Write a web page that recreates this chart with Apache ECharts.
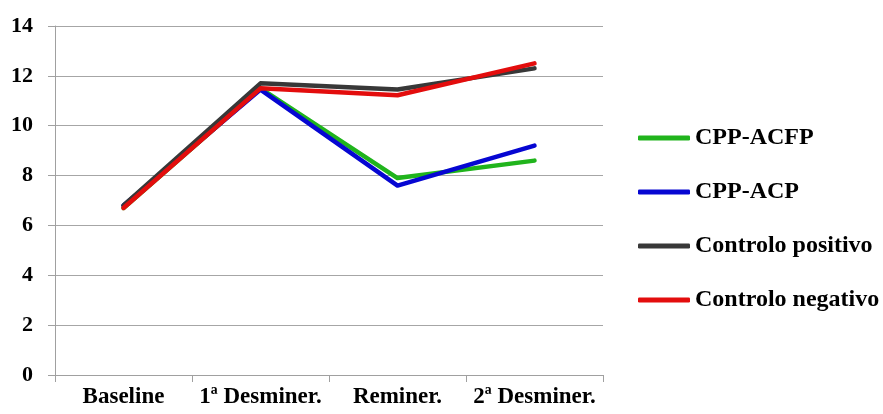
<!DOCTYPE html>
<html>
<head>
<meta charset="utf-8">
<script src="https://cdn.jsdelivr.net/npm/echarts@6/dist/echarts.min.js"></script>
<style>
  html, body { margin: 0; padding: 0; background: #ffffff; }
  #chart { width: 883px; height: 414px; }
</style>
</head>
<body>
<div id="chart"></div>
<script>
// Phases of the study (x axis)
const categories = ['Baseline', '1ª Desminer.', 'Reminer.', '2ª Desminer.'];

// Mean values per group
const cppAcfp = [6.7, 11.5, 7.9, 8.6];
const cppAcp = [6.8, 11.45, 7.6, 9.2];
const controloPositivo = [6.8, 11.7, 11.45, 12.3];
const controloNegativo = [6.7, 11.5, 11.22, 12.5];

// Y axis range
const yMin = 0;
const yMax = 14;
const yStep = 2;

const fontFamily = '"Liberation Serif", "Times New Roman", serif';

const seriesDefs = [
  { name: 'CPP-ACFP', data: cppAcfp, color: '#20b41c' },
  { name: 'CPP-ACP', data: cppAcp, color: '#0606d2' },
  { name: 'Controlo positivo', data: controloPositivo, color: '#383838' },
  { name: 'Controlo negativo', data: controloNegativo, color: '#e30d0d' }
];

const chart = echarts.init(document.getElementById('chart'), null, { renderer: 'canvas' });

chart.setOption({
  animation: false,
  backgroundColor: '#ffffff',
  grid: { left: 55, right: 280, top: 26, bottom: 39, containLabel: false },
  legend: {
    orient: 'vertical',
    left: 638,
    top: 126,
    padding: 0,
    itemWidth: 52,
    itemHeight: 5,
    itemGap: 30,
    icon: 'roundRect',
    textStyle: {
      fontFamily: fontFamily,
      fontWeight: 'bold',
      fontSize: 24,
      color: '#000000',
      lineHeight: 24
    },
    data: seriesDefs.map(s => s.name)
  },
  xAxis: {
    type: 'category',
    data: categories,
    boundaryGap: true,
    axisLine: { lineStyle: { color: '#a0a0a0', width: 1 } },
    axisTick: { show: true, length: 7, interval: 0, lineStyle: { color: '#a0a0a0' } },
    axisLabel: {
      interval: 0,
      margin: 11,
      fontFamily: fontFamily,
      fontWeight: 'bold',
      fontSize: 23,
      color: '#000000'
    },
    splitLine: { show: false }
  },
  yAxis: {
    type: 'value',
    min: yMin,
    max: yMax,
    interval: yStep,
    axisLine: { show: true, lineStyle: { color: '#a0a0a0', width: 1 } },
    axisTick: { show: true, length: 7, lineStyle: { color: '#a0a0a0' } },
    axisLabel: {
      margin: 22,
      fontFamily: fontFamily,
      fontWeight: 'bold',
      fontSize: 22,
      color: '#000000'
    },
    splitLine: { show: true, lineStyle: { color: '#a6a6a6', width: 1 } }
  },
  series: seriesDefs.map(s => ({
    name: s.name,
    type: 'line',
    data: s.data,
    showSymbol: false,
    symbol: 'none',
    color: s.color,
    lineStyle: { color: s.color, width: 4.5, cap: 'round', join: 'round' }
  }))
});
</script>
</body>
</html>
